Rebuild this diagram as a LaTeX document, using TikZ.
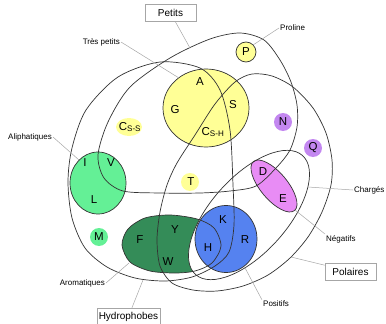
\documentclass[tikz,border=0pt]{standalone}
\usepackage{fontspec}
\setmainfont{Liberation Sans}
\definecolor{tinyfill}{RGB}{255,255,150}
\definecolor{aliphfill}{RGB}{100,240,150}
\definecolor{aromfill}{RGB}{52,140,88}
\definecolor{posfill}{RGB}{85,130,240}
\definecolor{negfill}{RGB}{232,140,245}
\definecolor{polfill}{RGB}{195,135,240}
\def\cysname#1{C\textsubscript{#1}}

\begin{document}
\begin{tikzpicture}[x = 1pt, y = -1pt]

    \tikzset{setline/.style = {draw = black!80, line width = 0.7pt}}
    \tikzset{leaderline/.style = {draw = black!35, line width = 0.5pt}}
    \tikzset{acid/.style = {font = \fontsize{11.5}{12}\selectfont, inner sep = 0pt}}
    \tikzset{setname/.style = {font = \fontsize{8}{9}\selectfont, inner sep = 1pt}}
    \tikzset{setbox/.style = {draw = black!35, fill = white, line width = 0.5pt,
        font = \fontsize{10}{11}\selectfont,
        minimum width = 51pt, minimum height = 17pt, inner sep = 2pt
        }
    }

    \useasboundingbox (0,0) rectangle (386,324);

    % coloured groups
    \fill[aromfill] plot[smooth cycle] coordinates {(197,219) (170,215) (145,218) (128,229)
        (122,245) (130,262) (150,271) (175,273) (195,271) (212,263) (221,246) (214,228)};
    \fill[white, rotate around = {48:(249,215)}] (249,215) ellipse [x radius = 80, y radius = 38];
    \filldraw[fill = posfill, setline] (226,239) ellipse [x radius = 31, y radius = 33.5];
    \filldraw[fill = tinyfill, setline] (206,108) ellipse [x radius = 43, y radius = 39];
    \filldraw[fill = aliphfill, setline] (98,183) ellipse [x radius = 28, y radius = 31];
    \filldraw[fill = tinyfill, setline] (246,52) circle [radius = 10];
    \filldraw[fill = negfill, setline, rotate around = {-50:(274,186)}] (274,186)
        ellipse [x radius = 32, y radius = 13.5];
    \fill[tinyfill] (129,127) ellipse [x radius = 13, y radius = 9];
    \fill[tinyfill] (190,182) circle [radius = 9];
    \fill[polfill] (283,122) circle [radius = 9];
    \fill[polfill] (313,148) circle [radius = 9];
    \fill[aliphfill] (99,237) circle [radius = 9];

    % set borders
    \draw[setline] plot[smooth cycle] coordinates {(160,62) (200,68) (220,90) (230,130)
        (233,185) (234,225) (229,252) (215,266) (192,277) (165,281) (135,278) (107,267)
        (85,248) (72,218) (68,182) (72,148) (86,110) (118,77)};
    \draw[setline] plot[smooth cycle] coordinates {(123,191) (160,193) (200,193) (230,191)
        (256,186) (276,168) (290,150) (297,127) (297,105) (291,82) (280,60) (264,40)
        (240,33) (210,39) (170,58) (130,87) (108,122) (98,155) (104,178)};
    \draw[setline] plot[smooth cycle] coordinates {(252,74) (272,76) (293,87) (313,108)
        (326,133) (332,160) (331,185) (322,212) (308,237) (290,258) (268,275) (243,286)
        (217,291) (193,290) (172,283) (160,266) (157,240) (160,212) (167,185) (177,163)
        (195,135) (215,104) (235,82)};
    \draw[setline, rotate around = {48:(249,215)}] (249,215) ellipse [x radius = 80, y radius = 38];
    \draw[setline] plot[smooth cycle] coordinates {(197,219) (170,215) (145,218) (128,229)
        (122,245) (130,262) (150,271) (175,273) (195,271) (212,263) (221,246) (214,228)};

    % amino acids
    \node (acA) [acid] at (200,82) {A};
    \node (acG) [acid] at (175,110) {G};
    \node (acS) [acid] at (233,105) {S};
    \node (acCsh) [acid] at (213,132) {\cysname{S-H}};
    \node (acCss) [acid] at (130,127) {\cysname{S-S}};
    \node (acP) [acid] at (246,52) {P};
    \node (acT) [acid] at (191,182) {T};
    \node (acN) [acid] at (283,122) {N};
    \node (acQ) [acid] at (313,148) {Q};
    \node (acI) [acid] at (85,163) {I};
    \node (acV) [acid] at (111,163) {V};
    \node (acL) [acid] at (94,200) {L};
    \node (acM) [acid] at (99,237) {M};
    \node (acF) [acid] at (140,240) {F};
    \node (acY) [acid] at (175,230) {Y};
    \node (acW) [acid] at (168,262) {W};
    \node (acK) [acid] at (223,220) {K};
    \node (acR) [acid] at (245,240) {R};
    \node (acH) [acid] at (208,248) {H};
    \node (acD) [acid] at (263,172) {D};
    \node (acE) [acid] at (283,199) {E};

    % names of the sets
    \coordinate (petitspt) at (190,48);
    \coordinate (prolinept) at (253,45);
    \coordinate (trespt) at (179,78);
    \coordinate (aliphpt) at (79,160);
    \coordinate (chargespt) at (308,187);
    \coordinate (negpt) at (295,210);
    \coordinate (polpt) at (291,257);
    \coordinate (pospt) at (244,266);
    \coordinate (arompt) at (129,263);
    \coordinate (hydropt) at (143,280);

    \node (petitsbox) [setbox] at (170.5,13) {Petits};
    \node (polbox) [setbox] at (350.5,271.5) {Polaires};
    \node (hydrobox) [setbox] at (128.5,316.5) {Hydrophobes};
    \node (prolinename) [setname, anchor = west] at (279,28) {Proline};
    \node (tresname) [setname, anchor = east] at (121,42) {Très petits};
    \node (aliphname) [setname, anchor = east] at (53,137) {Aliphatiques};
    \node (chargesname) [setname, anchor = west] at (353,190) {Chargés};
    \node (negname) [setname, anchor = west] at (325,239) {Négatifs};
    \node (posname) [setname, anchor = west] at (262,304) {Positifs};
    \node (aromname) [setname, anchor = east] at (106,283) {Aromatiques};

    \draw[leaderline] (petitsbox) -- (petitspt);
    \draw[leaderline] (polbox) -- (polpt);
    \draw[leaderline] (hydrobox) -- (hydropt);
    \draw[leaderline] (prolinename.west) -- (prolinept);
    \draw[leaderline] (tresname.east) -- (trespt);
    \draw[leaderline] (aliphname.east) -- (aliphpt);
    \draw[leaderline] (chargesname.west) -- (chargespt);
    \draw[leaderline] (negname.north west) -- (negpt);
    \draw[leaderline] (posname.north west) -- (pospt);
    \draw[leaderline] (aromname.east) -- (arompt);

\end{tikzpicture}
\end{document}
